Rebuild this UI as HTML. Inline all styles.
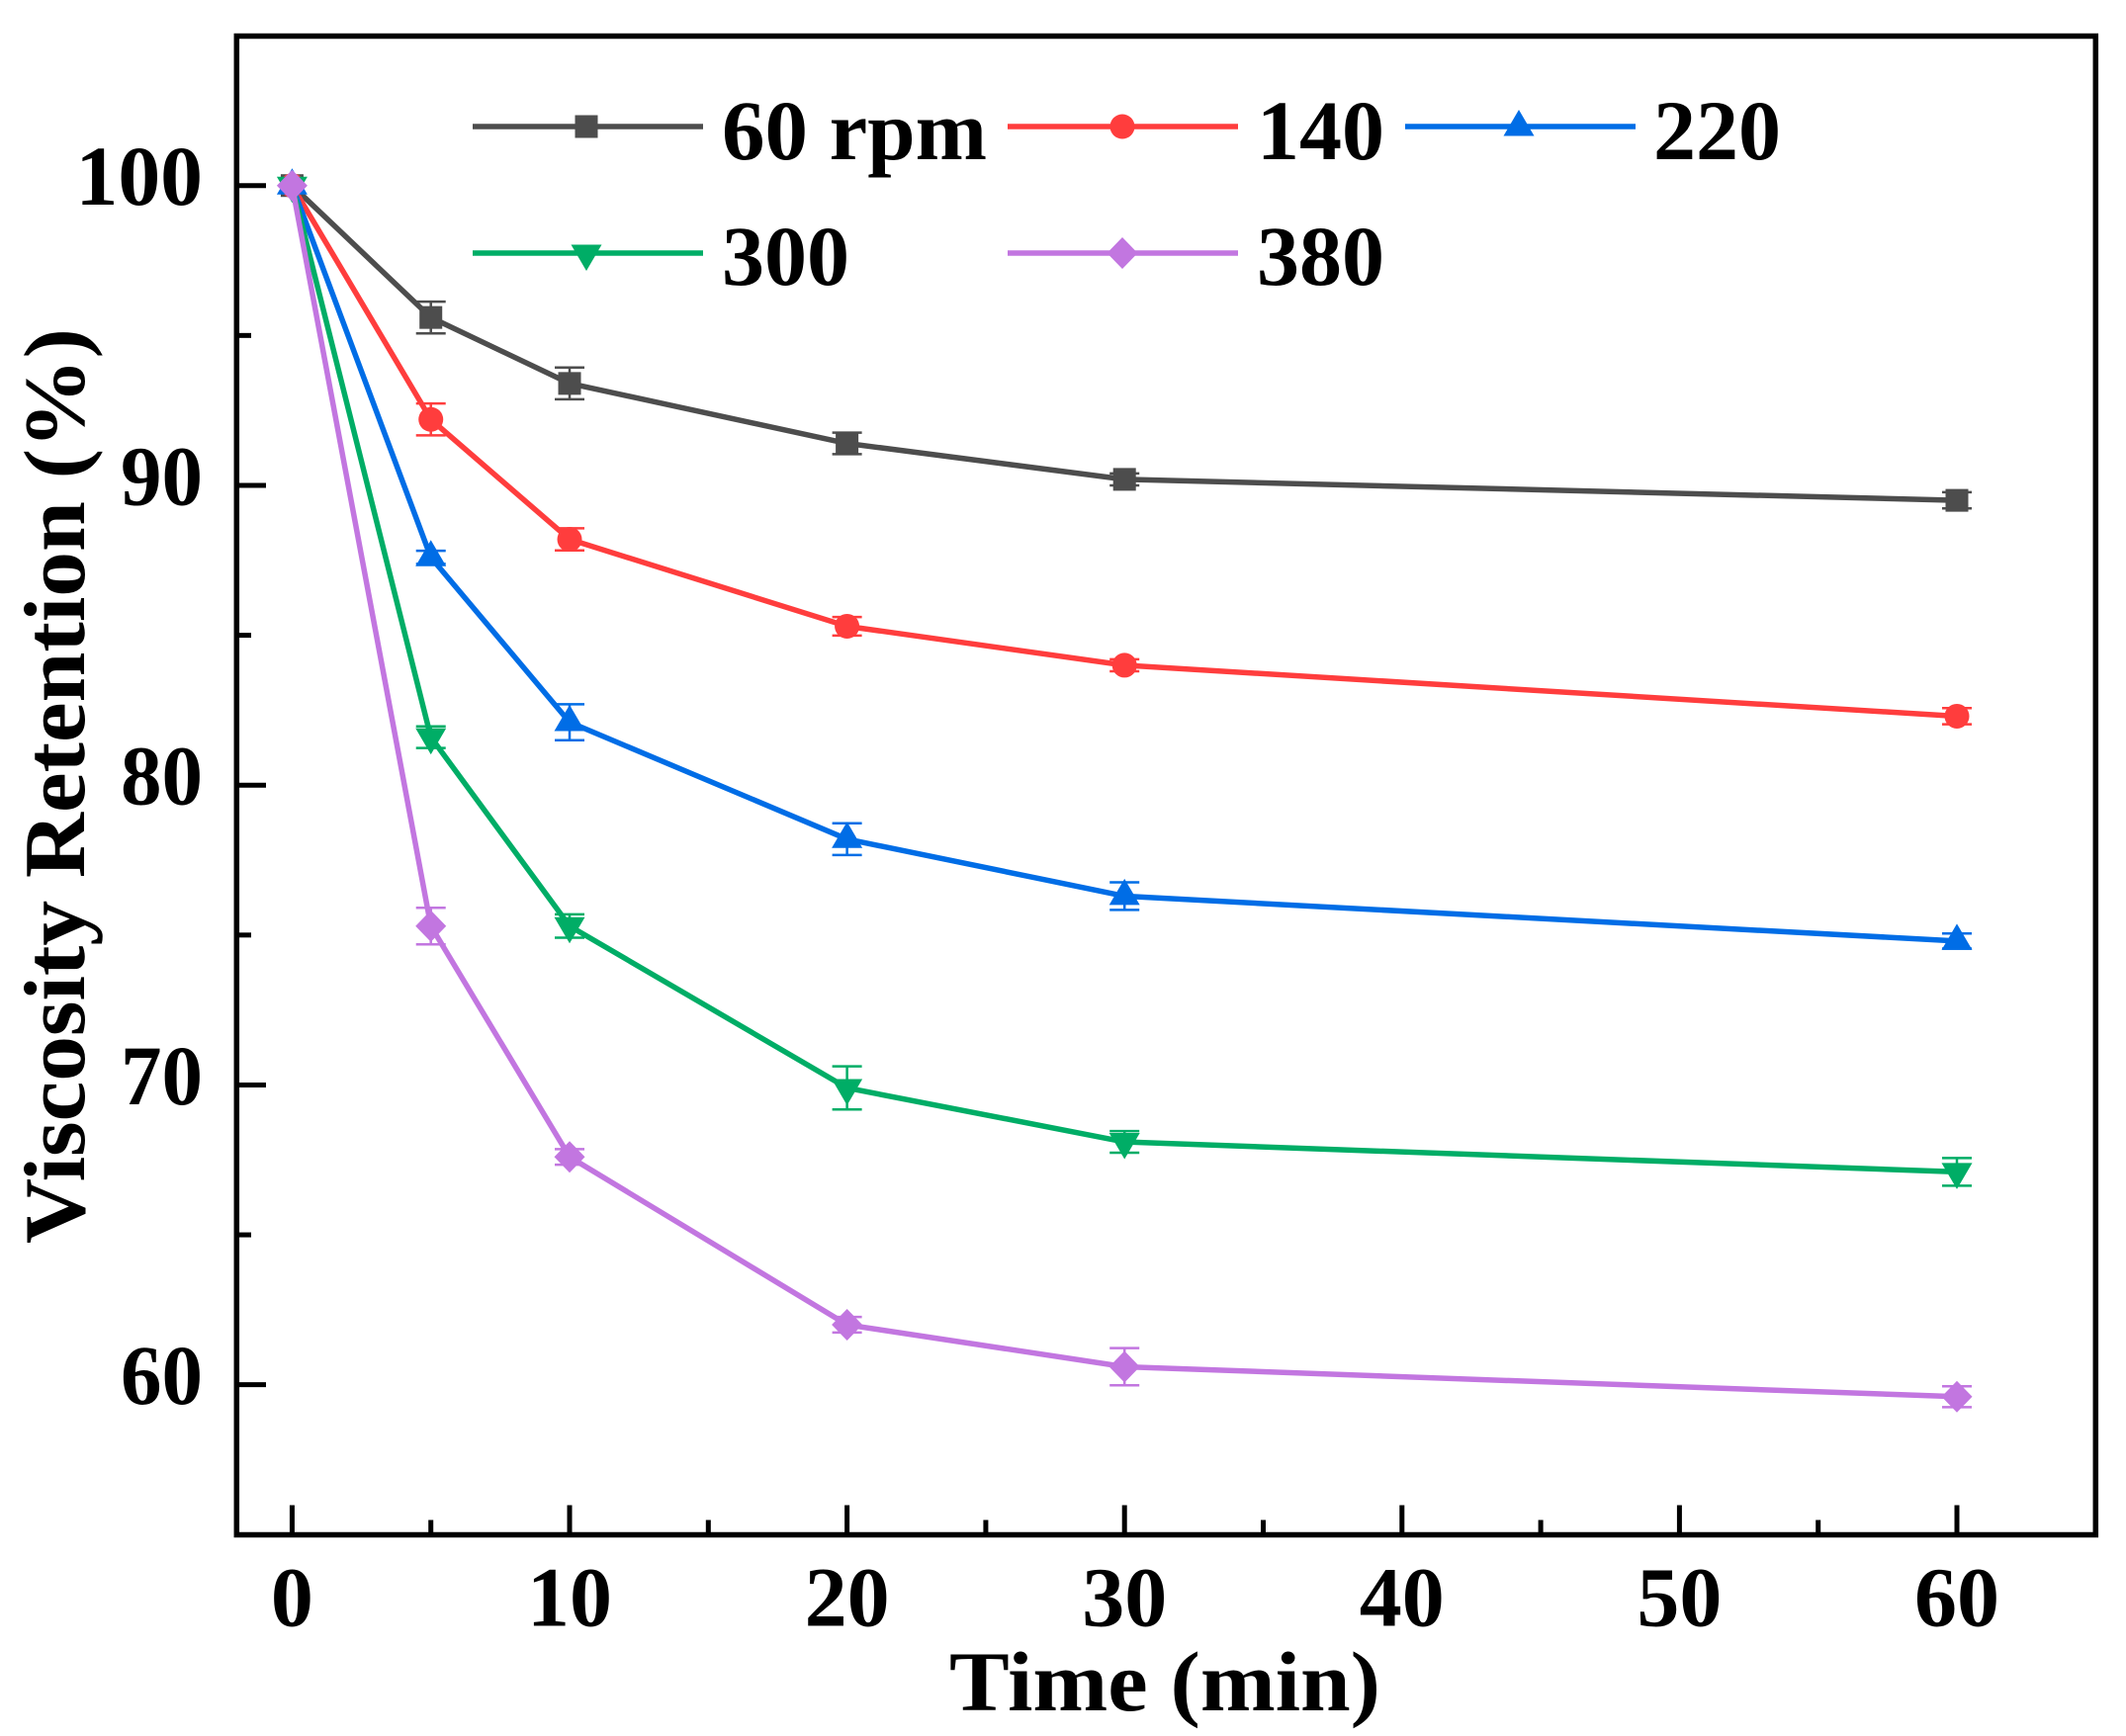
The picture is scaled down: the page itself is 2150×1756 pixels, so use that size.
<!DOCTYPE html>
<html lang="en">
<head>
<meta charset="utf-8">
<title>Viscosity Retention vs Time</title>
<style>
html,body{margin:0;padding:0;background:#fff;}
svg{display:block;}
text{font-family:"Liberation Serif",serif;font-weight:bold;font-size:86px;fill:#000;}
</style>
</head>
<body>
<svg id="chart" xmlns="http://www.w3.org/2000/svg" width="2150" height="1756" viewBox="0 0 2150 1756">
  <rect x="0" y="0" width="2150" height="1756" fill="#fff"/>
  <g id="ticks"></g>
  <g id="tick-labels"></g>
  <g id="series"></g>
  <rect x="239.3" y="36.5" width="1880" height="1516" fill="none" stroke="#000" stroke-width="5.5"/>
  <text x="960" y="1730" textLength="436" lengthAdjust="spacingAndGlyphs">Time (min)</text>
  <text transform="translate(85 1258) rotate(-90)" x="0" y="0" style="font-size:88px" textLength="926" lengthAdjust="spacingAndGlyphs">Viscosity Retention (%)</text>
  <g id="legend">
    <g>
      <line x1="478" y1="128" x2="711" y2="128" stroke="#4d4d4d" stroke-width="5.5" stroke-linecap="butt"/>
      <rect x="581.5" y="116.5" width="23" height="23" fill="#4d4d4d"/>
      <text x="730" y="161" textLength="268" lengthAdjust="spacingAndGlyphs">60 rpm</text>
    </g>
    <g>
      <line x1="1019" y1="128" x2="1252" y2="128" stroke="#ff3d3d" stroke-width="5.5" stroke-linecap="butt"/>
      <circle cx="1135" cy="128" r="12.5" fill="#ff3d3d"/>
      <text x="1271" y="161">140</text>
    </g>
    <g>
      <line x1="1421" y1="128" x2="1654" y2="128" stroke="#006de6" stroke-width="5.5" stroke-linecap="butt"/>
      <polygon points="1536,111 1551.5,137.5 1520.5,137.5" fill="#006de6"/>
      <text x="1672" y="161">220</text>
    </g>
    <g>
      <line x1="478" y1="256" x2="711" y2="256" stroke="#00ad66" stroke-width="5.5" stroke-linecap="butt"/>
      <polygon points="577.5,247.5 608.5,247.5 593,274" fill="#00ad66"/>
      <text x="730" y="288">300</text>
    </g>
    <g>
      <line x1="1019" y1="256" x2="1252" y2="256" stroke="#c276e0" stroke-width="5.5" stroke-linecap="butt"/>
      <polygon points="1135,240 1150.5,256 1135,272 1119.5,256" fill="#c276e0"/>
      <text x="1271" y="288">380</text>
    </g>
  </g>
</svg>
<script>
// Chart data
const times = [0, 5, 10, 20, 30, 60];
const rpm60 = [100, 95.6, 93.4, 91.4, 90.2, 89.5];
const rpm140 = [100, 92.2, 88.2, 85.3, 84.0, 82.3];
const rpm220 = [100, 87.6, 82.1, 78.2, 76.3, 74.8];
const rpm300 = [100, 81.6, 75.3, 69.9, 68.1, 67.1];
const rpm380 = [100, 75.3, 67.6, 62.0, 60.6, 59.6];
const err60 = [0, 0.53, 0.53, 0.36, 0.2, 0.27];
const err140 = [0, 0.53, 0.37, 0.31, 0.2, 0.27];
const err220 = [0, 0.22, 0.6, 0.53, 0.46, 0.25];
const err300 = [0, 0.36, 0.39, 0.72, 0.36, 0.46];
const err380 = [0, 0.61, 0.26, 0.26, 0.62, 0.35];
const xMajorTicks = [0, 10, 20, 30, 40, 50, 60];
const xMinorTicks = [5, 15, 25, 35, 45, 55];
const yMajorTicks = [60, 70, 80, 90, 100];
const yMinorTicks = [65, 75, 85, 95];

const xDomain = [-2, 65];
const yDomain = [55, 105];
const xRange = [239.3, 2119.3];
const yRange = [1552.3, 36.1];

function xScale(v) {
  return xRange[0] + (v - xDomain[0]) / (xDomain[1] - xDomain[0]) * (xRange[1] - xRange[0]);
}
function yScale(v) {
  return yRange[0] + (v - yDomain[0]) / (yDomain[1] - yDomain[0]) * (yRange[1] - yRange[0]);
}

const NS = 'http://www.w3.org/2000/svg';
function make(tag, attrs, parent) {
  const el = document.createElementNS(NS, tag);
  for (const k in attrs) el.setAttribute(k, attrs[k]);
  parent.appendChild(el);
  return el;
}

const tickGroup = document.getElementById('ticks');
const labelGroup = document.getElementById('tick-labels');
const seriesGroup = document.getElementById('series');

xMajorTicks.forEach(function (v) {
  const t = make('line', {x1: xScale(v), x2: xScale(v), y1: 1552, y2: 1522.5, stroke: '#000', 'stroke-width': 5}, tickGroup);
  
  
  const l = make('text', {x: xScale(v), y: 1644.5, 'text-anchor': 'middle'}, labelGroup);
  l.textContent = String(v);
  
  
});
xMinorTicks.forEach(function (v) {
  const t = make('line', {x1: xScale(v), x2: xScale(v), y1: 1552, y2: 1537.5, stroke: '#000', 'stroke-width': 5}, tickGroup);
  
  
});
yMajorTicks.forEach(function (v) {
  const t = make('line', {x1: 239, x2: 269, y1: yScale(v), y2: yScale(v), stroke: '#000', 'stroke-width': 5}, tickGroup);
  
  
  const label = String(v);
  const l = make('text', {x: 205, y: yScale(v) + 19.5, 'text-anchor': 'end', textLength: label.length === 3 ? 128.5 : 83, lengthAdjust: 'spacingAndGlyphs'}, labelGroup);
  l.textContent = label;
  
  
});
yMinorTicks.forEach(function (v) {
  const t = make('line', {x1: 239, x2: 254, y1: yScale(v), y2: yScale(v), stroke: '#000', 'stroke-width': 5}, tickGroup);
  
  
});

function drawMarker(kind, cx, cy, color, parent) {
  if (kind === 'square') {
    return make('rect', {x: cx - 11.5, y: cy - 11.5, width: 23, height: 23, fill: color}, parent);
  }
  if (kind === 'circle') {
    return make('circle', {cx: cx, cy: cy, r: 12.5, fill: color}, parent);
  }
  let pts;
  if (kind === 'up') {
    pts = [[cx, cy - 17.5], [cx + 15.5, cy + 9], [cx - 15.5, cy + 9]];
  } else if (kind === 'down') {
    pts = [[cx - 15.5, cy - 9], [cx + 15.5, cy - 9], [cx, cy + 17.5]];
  } else {
    pts = [[cx, cy - 16], [cx + 15.5, cy], [cx, cy + 16], [cx - 15.5, cy]];
  }
  return make('polygon', {points: pts.map(function (p) { return p.join(','); }).join(' '), fill: color}, parent);
}

function drawSeries(name, values, errors, color, kind) {
  const g = make('g', {}, seriesGroup);
  
  

  values.forEach(function (v, i) {
    if (!errors[i]) return;
    const x = xScale(times[i]);
    const top = yScale(v + errors[i]);
    const bot = yScale(v - errors[i]);
    const eb = make('path', {
      d: 'M' + (x - 15) + ' ' + top + 'H' + (x + 15) +
         'M' + (x - 15) + ' ' + bot + 'H' + (x + 15) +
         'M' + x + ' ' + top + 'V' + bot,
      fill: 'none', stroke: color, 'stroke-width': 2.5
    }, g);
    
    
  });

  const pts = values.map(function (v, i) { return xScale(times[i]) + ',' + yScale(v); }).join(' ');
  const line = make('polyline', {points: pts, fill: 'none', stroke: color, 'stroke-width': 5.5, 'stroke-linejoin': 'round'}, g);
  
  

  values.forEach(function (v, i) {
    const m = drawMarker(kind, xScale(times[i]), yScale(v), color, g);
    
    
  });
}

drawSeries('60-rpm', rpm60, err60, '#4d4d4d', 'square');
drawSeries('140-rpm', rpm140, err140, '#ff3d3d', 'circle');
drawSeries('220-rpm', rpm220, err220, '#006de6', 'up');
drawSeries('300-rpm', rpm300, err300, '#00ad66', 'down');
drawSeries('380-rpm', rpm380, err380, '#c276e0', 'diamond');
</script>
</body>
</html>
